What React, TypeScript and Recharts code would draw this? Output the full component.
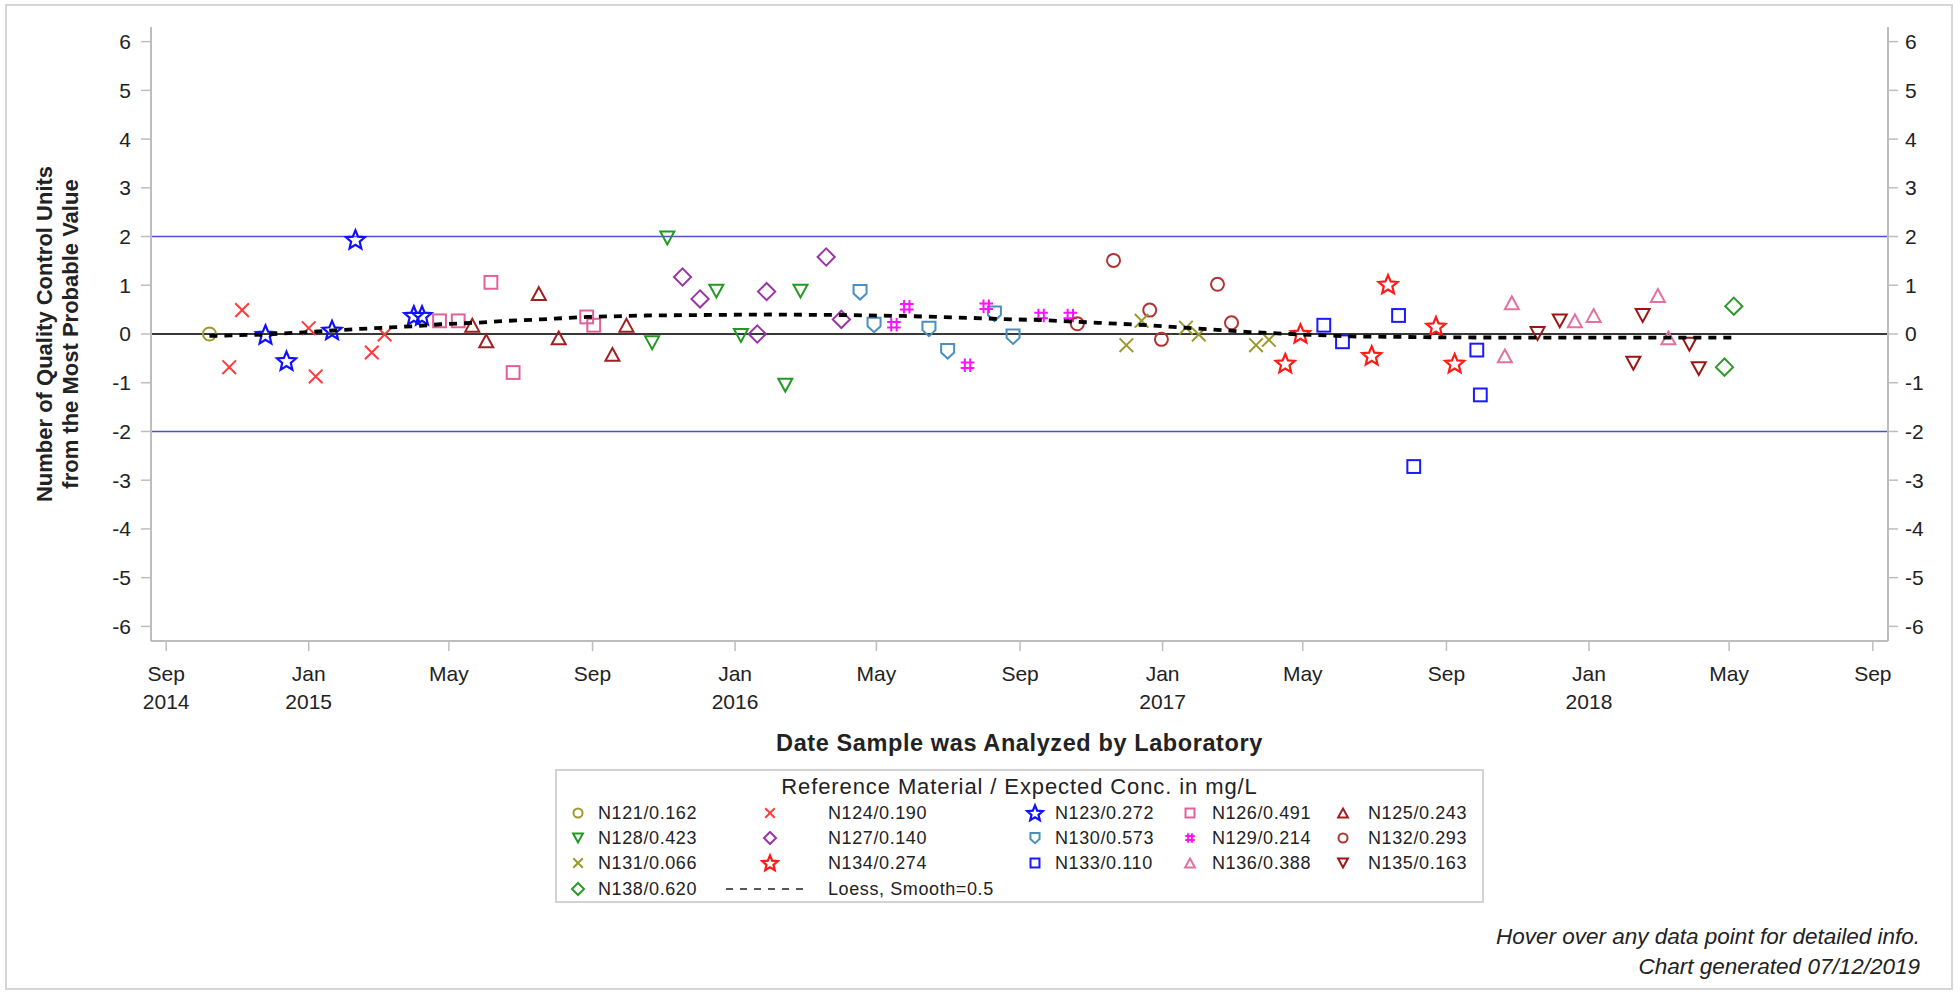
import React from 'react';
import { ScatterChart, Scatter, XAxis, YAxis, ReferenceLine, Label } from 'recharts';

const FONT = '"Liberation Sans", Arial, Helvetica, sans-serif';
const AXIS_GRAY = '#bdbdbd';
const TEXT = '#222';

// x axis ticks (month / year labels)
const TICK_DATES = [
  '2014-09-01', '2015-01-01', '2015-05-01', '2015-09-01', '2016-01-01', '2016-05-01', '2016-09-01',
  '2017-01-01', '2017-05-01', '2017-09-01', '2018-01-01', '2018-05-01', '2018-09-01'
];
const TICK_MONTHS = ['Sep', 'Jan', 'May', 'Sep', 'Jan', 'May', 'Sep', 'Jan', 'May', 'Sep', 'Jan', 'May', 'Sep'];
const TICK_YEARS = ['2014', '2015', '', '', '2016', '', '', '2017', '', '', '2018', '', ''];
const Y_TICKS = [-6, -5, -4, -3, -2, -1, 0, 1, 2, 3, 4, 5, 6];
const X_START = '2014-08-19';
const X_END = '2018-09-14';

// one pair of arrays per reference material
const N121_DATES = ['2014-10-08'];
const N121_VALUES = [0.0];

const N124_DATES = ['2014-10-25', '2014-11-05', '2015-01-01', '2015-01-07', '2015-02-24', '2015-03-07'];
const N124_VALUES = [-0.68, 0.49, 0.12, -0.87, -0.38, -0.01];

const N123_DATES = ['2014-11-25', '2014-12-13', '2015-01-21', '2015-02-10', '2015-04-01', '2015-04-08'];
const N123_VALUES = [-0.01, -0.55, 0.08, 1.94, 0.38, 0.38];

const N126_DATES = ['2015-04-23', '2015-05-09', '2015-06-06', '2015-06-25', '2015-08-27', '2015-09-02'];
const N126_VALUES = [0.27, 0.27, 1.06, -0.79, 0.35, 0.18];

const N125_DATES = ['2015-05-21', '2015-06-02', '2015-07-17', '2015-08-03', '2015-09-18', '2015-09-30'];
const N125_VALUES = [0.18, -0.14, 0.83, -0.08, -0.42, 0.18];

const N128_DATES = ['2015-10-22', '2015-11-04', '2015-12-16', '2016-01-06', '2016-02-13', '2016-02-26'];
const N128_VALUES = [-0.18, 1.97, 0.88, -0.03, -1.05, 0.88];

const N127_DATES = ['2015-11-17', '2015-12-02', '2016-01-20', '2016-01-28', '2016-03-19', '2016-04-01'];
const N127_VALUES = [1.17, 0.72, 0.0, 0.87, 1.58, 0.30];

const N130_DATES = ['2016-04-17', '2016-04-29', '2016-06-15', '2016-07-01', '2016-08-10', '2016-08-26'];
const N130_VALUES = [0.86, 0.19, 0.11, -0.35, 0.42, -0.05];

const N129_DATES = ['2016-05-16', '2016-05-27', '2016-07-18', '2016-08-03', '2016-09-19', '2016-10-14'];
const N129_VALUES = [0.19, 0.56, -0.64, 0.57, 0.38, 0.38];

const N132_DATES = ['2016-10-20', '2016-11-20', '2016-12-21', '2016-12-31', '2017-02-17', '2017-03-01'];
const N132_VALUES = [0.21, 1.51, 0.49, -0.11, 1.02, 0.23];

const N131_DATES = ['2016-12-01', '2016-12-14', '2017-01-21', '2017-02-01', '2017-03-22', '2017-04-02'];
const N131_VALUES = [-0.23, 0.27, 0.13, -0.01, -0.23, -0.12];

const N134_DATES = ['2017-04-16', '2017-04-29', '2017-06-29', '2017-07-13', '2017-08-23', '2017-09-08'];
const N134_VALUES = [-0.60, 0.01, -0.44, 1.02, 0.16, -0.60];

const N133_DATES = ['2017-05-19', '2017-06-04', '2017-07-22', '2017-08-04', '2017-09-27', '2017-09-30'];
const N133_VALUES = [0.18, -0.16, 0.38, -2.72, -0.33, -1.25];

const N136_DATES = ['2017-10-21', '2017-10-27', '2017-12-20', '2018-01-05', '2018-03-01', '2018-03-10'];
const N136_VALUES = [-0.45, 0.64, 0.27, 0.38, 0.79, -0.08];

const N135_DATES = ['2017-11-18', '2017-12-07', '2018-02-08', '2018-02-16', '2018-03-28', '2018-04-05'];
const N135_VALUES = [0.01, 0.27, -0.60, 0.38, -0.21, -0.71];

const N138_DATES = ['2018-04-27', '2018-05-05'];
const N138_VALUES = [-0.68, 0.57];

// loess fit
const LOESS_DATES = [
  '2014-10-08', '2014-11-25', '2015-01-01', '2015-02-10', '2015-03-07', '2015-04-01', '2015-04-24',
  '2015-05-23', '2015-06-20', '2015-07-19', '2015-08-27', '2015-10-17', '2015-12-04', '2016-01-31',
  '2016-03-30', '2016-05-25', '2016-07-21', '2016-08-27', '2016-09-25', '2016-11-07', '2016-12-20',
  '2017-02-01', '2017-03-16', '2017-04-30', '2017-06-12', '2017-07-25', '2017-09-03', '2017-12-01',
  '2018-03-01', '2018-05-05'
];
const LOESS_VALUES = [
  -0.04, -0.01, 0.04, 0.10, 0.13, 0.16, 0.20,
  0.23, 0.27, 0.30, 0.35, 0.38, 0.39, 0.40,
  0.39, 0.37, 0.33, 0.30, 0.28, 0.23, 0.18,
  0.11, 0.04, -0.01, -0.05, -0.06, -0.07, -0.075,
  -0.075, -0.075
];

type Kind = 'circle' | 'x' | 'star' | 'square' | 'triangle' | 'triangledown' | 'diamond' | 'homedown' | 'hash';

const SERIES: { name: string; kind: Kind; color: string; dates: string[]; values: number[] }[] = [
  { name: 'N121/0.162', kind: 'circle', color: '#9c9a2c', dates: N121_DATES, values: N121_VALUES },
  { name: 'N124/0.190', kind: 'x', color: '#ff3b3b', dates: N124_DATES, values: N124_VALUES },
  { name: 'N123/0.272', kind: 'star', color: '#1010ff', dates: N123_DATES, values: N123_VALUES },
  { name: 'N126/0.491', kind: 'square', color: '#e2609a', dates: N126_DATES, values: N126_VALUES },
  { name: 'N125/0.243', kind: 'triangle', color: '#a31f1f', dates: N125_DATES, values: N125_VALUES },
  { name: 'N128/0.423', kind: 'triangledown', color: '#229a22', dates: N128_DATES, values: N128_VALUES },
  { name: 'N127/0.140', kind: 'diamond', color: '#9a35a8', dates: N127_DATES, values: N127_VALUES },
  { name: 'N130/0.573', kind: 'homedown', color: '#4a8fbf', dates: N130_DATES, values: N130_VALUES },
  { name: 'N129/0.214', kind: 'hash', color: '#ff10ff', dates: N129_DATES, values: N129_VALUES },
  { name: 'N132/0.293', kind: 'circle', color: '#b03434', dates: N132_DATES, values: N132_VALUES },
  { name: 'N131/0.066', kind: 'x', color: '#9c9a2c', dates: N131_DATES, values: N131_VALUES },
  { name: 'N134/0.274', kind: 'star', color: '#ff1a1a', dates: N134_DATES, values: N134_VALUES },
  { name: 'N133/0.110', kind: 'square', color: '#1a1aff', dates: N133_DATES, values: N133_VALUES },
  { name: 'N136/0.388', kind: 'triangle', color: '#e4709e', dates: N136_DATES, values: N136_VALUES },
  { name: 'N135/0.163', kind: 'triangledown', color: '#9c1414', dates: N135_DATES, values: N135_VALUES },
  { name: 'N138/0.620', kind: 'diamond', color: '#2e9a2e', dates: N138_DATES, values: N138_VALUES }
];

const ms = (d: string) => Date.parse(d + 'T00:00:00Z');
const TICKS = TICK_DATES.map(ms);
const X_DOMAIN = [ms(X_START), ms(X_END)];
const LOESS_DATA = LOESS_DATES.map((d, i) => ({ t: ms(d), v: LOESS_VALUES[i] }));

function starPath(cx: number, cy: number, R: number, r: number) {
  let d = '';
  for (let i = 0; i < 10; i++) {
    const rad = i % 2 === 0 ? R : r;
    const a = -Math.PI / 2 + (i * Math.PI) / 5;
    d += (i === 0 ? 'M' : 'L') + (cx + rad * Math.cos(a)).toFixed(2) + ',' + (cy + rad * Math.sin(a)).toFixed(2);
  }
  return d + 'Z';
}

function Marker({ kind, cx, cy, color, s = 1 }: { kind: Kind; cx: number; cy: number; color: string; s?: number }) {
  const common = { fill: 'none', stroke: color, strokeWidth: 2 };
  switch (kind) {
    case 'circle':
      return <circle cx={cx} cy={cy} r={6.5 * s} {...common} />;
    case 'x': {
      const h = 6.8 * s;
      return <path d={`M${cx - h},${cy - h}L${cx + h},${cy + h}M${cx - h},${cy + h}L${cx + h},${cy - h}`} {...common} />;
    }
    case 'star':
      return <path d={starPath(cx, cy + 0.8 * s, 10 * s, 4.5 * s)} {...common} strokeWidth={2.2} strokeLinejoin="miter" />;
    case 'square': {
      const h = 6.4 * s;
      return <rect x={cx - h} y={cy - h} width={2 * h} height={2 * h} {...common} />;
    }
    case 'triangle': {
      const w = 7 * s, h = 6.4 * s;
      return <path d={`M${cx},${cy - h}L${cx + w},${cy + h}L${cx - w},${cy + h}Z`} {...common} />;
    }
    case 'triangledown': {
      const w = 7 * s, h = 6.4 * s;
      return <path d={`M${cx - w},${cy - h}L${cx + w},${cy - h}L${cx},${cy + h}Z`} {...common} />;
    }
    case 'diamond': {
      const h = 8.6 * s;
      return <path d={`M${cx},${cy - h}L${cx + h},${cy}L${cx},${cy + h}L${cx - h},${cy}Z`} {...common} />;
    }
    case 'homedown': {
      const w = 6.5 * s;
      return (
        <path
          d={`M${cx - w},${cy - 7 * s}L${cx + w},${cy - 7 * s}L${cx + w},${cy + 1.5 * s}L${cx},${cy + 7.5 * s}L${cx - w},${cy + 1.5 * s}Z`}
          {...common}
        />
      );
    }
    case 'hash': {
      const h = 6.8 * s, o = 2.7 * s;
      return (
        <path
          d={`M${cx - o},${cy - h}V${cy + h}M${cx + o},${cy - h}V${cy + h}M${cx - h},${cy - o}H${cx + h}M${cx - h},${cy + o}H${cx + h}`}
          {...common}
        />
      );
    }
  }
  return null;
}

function XTick({ x, y, payload }: any) {
  const i = TICKS.indexOf(payload.value);
  return (
    <text x={x} y={y + 30} textAnchor="middle" fontSize={21} fontFamily={FONT} fill={TEXT}>
      <tspan x={x}>{TICK_MONTHS[i]}</tspan>
      {TICK_YEARS[i] ? <tspan x={x} dy={28}>{TICK_YEARS[i]}</tspan> : null}
    </text>
  );
}

// legend layout (page coordinates)
const LEG_MARKER_X = [578, 770, 1035, 1190, 1343];
const LEG_TEXT_X = [598, 828, 1055, 1212, 1368];
const LEG_ROW_Y = [813, 838, 863, 889];

export default function App() {
  const tickStyle = { fontSize: 21, fontFamily: FONT, fill: TEXT };
  return (
    <div style={{ position: 'absolute', left: 0, top: 0, width: 1960, height: 992, background: '#fff' }}>
      <ScatterChart width={1960} height={992} margin={{ top: 27, right: 0, bottom: 0, left: 0 }}>
        <XAxis
          dataKey="t"
          type="number"
          domain={X_DOMAIN}
          allowDataOverflow
          ticks={TICKS}
          tick={<XTick />}
          tickSize={10}
          tickMargin={0}
          height={351}
          axisLine={{ stroke: AXIS_GRAY, strokeWidth: 2 }}
          tickLine={{ stroke: AXIS_GRAY, strokeWidth: 1.5 }}
        >
          <Label
            content={({ viewBox }: any) => (
              <text
                x={viewBox.x + viewBox.width / 2}
                y={viewBox.y + 102}
                textAnchor="middle"
                dominantBaseline="central"
                fontSize={23.5}
                letterSpacing={0.6}
                fontWeight="bold"
                fontFamily={FONT}
                fill={TEXT}
              >
                Date Sample was Analyzed by Laboratory
              </text>
            )}
          />
        </XAxis>
        <XAxis
          xAxisId="top"
          orientation="top"
          type="number"
          domain={X_DOMAIN}
          allowDataOverflow
          tick={false}
          tickLine={false}
          height={0}
          axisLine={{ stroke: AXIS_GRAY, strokeWidth: 2 }}
        />
        <YAxis
          dataKey="v"
          type="number"
          domain={[-6.3, 6.3]}
          allowDataOverflow
          ticks={Y_TICKS}
          width={151}
          tickSize={10}
          tickMargin={10}
          tick={tickStyle}
          axisLine={{ stroke: AXIS_GRAY, strokeWidth: 2 }}
          tickLine={{ stroke: AXIS_GRAY, strokeWidth: 1.5 }}
        >
          <Label
            content={({ viewBox }: any) => {
              const cy = viewBox.y + viewBox.height / 2;
              return (
                <g fontSize={22} fontWeight="bold" fontFamily={FONT} fill={TEXT} textAnchor="middle">
                  <text x={44} y={cy} dominantBaseline="central" transform={`rotate(-90, 44, ${cy})`}>
                    Number of Quality Control Units
                  </text>
                  <text x={70} y={cy} dominantBaseline="central" transform={`rotate(-90, 70, ${cy})`}>
                    from the Most Probable Value
                  </text>
                </g>
              );
            }}
          />
        </YAxis>
        <YAxis
          yAxisId="right"
          orientation="right"
          type="number"
          domain={[-6.3, 6.3]}
          allowDataOverflow
          ticks={Y_TICKS}
          width={72}
          tickSize={10}
          tickMargin={7}
          tick={tickStyle}
          axisLine={{ stroke: AXIS_GRAY, strokeWidth: 2 }}
          tickLine={{ stroke: AXIS_GRAY, strokeWidth: 1.5 }}
        />
        <ReferenceLine y={2} stroke="#4d4dd6" strokeWidth={1.6} />
        <ReferenceLine y={-2} stroke="#4d4dd6" strokeWidth={1.6} />
        <ReferenceLine y={0} stroke="#383838" strokeWidth={2.2} />
        {SERIES.map((s) => (
          <Scatter
            key={s.name}
            name={s.name}
            data={s.dates.map((d, i) => ({ t: ms(d), v: s.values[i] }))}
            isAnimationActive={false}
            shape={(p: any) => <Marker kind={s.kind} cx={p.cx} cy={p.cy} color={s.color} />}
          />
        ))}
        <Scatter
          name="Loess, Smooth=0.5"
          data={LOESS_DATA}
          line={{ stroke: '#000', strokeWidth: 3.8, strokeDasharray: '8 7' }}
          lineType="joint"
          isAnimationActive={false}
          shape={() => <g />}
        />
      </ScatterChart>

      <svg
        width={1960}
        height={992}
        style={{ position: 'absolute', left: 0, top: 0, pointerEvents: 'none' }}
        fontFamily={FONT}
      >
        <rect x={6} y={5} width={1946} height={984} fill="none" stroke="#d6d6d6" strokeWidth={2} />
        <rect x={556} y={770} width={927} height={132} fill="none" stroke="#d2d2d2" strokeWidth={2} />
        <text x={1019.5} y={786} textAnchor="middle" dominantBaseline="central" fontSize={22} letterSpacing={0.9} fill={TEXT}>
          Reference Material / Expected Conc. in mg/L
        </text>
        {SERIES.map((s, i) => {
          const row = Math.floor(i / 5);
          const col = i % 5;
          const y = LEG_ROW_Y[row];
          return (
            <g key={s.name}>
              <Marker kind={s.kind} cx={LEG_MARKER_X[col]} cy={y} color={s.color} s={s.kind === 'star' ? 0.82 : 0.7} />
              <text x={LEG_TEXT_X[col]} y={y} dominantBaseline="central" fontSize={18} letterSpacing={0.6} fill={TEXT}>
                {s.name}
              </text>
            </g>
          );
        })}
        <line x1={726} y1={LEG_ROW_Y[3]} x2={807} y2={LEG_ROW_Y[3]} stroke="#222" strokeWidth={1.5} strokeDasharray="7 7" />
        <text x={LEG_TEXT_X[1]} y={LEG_ROW_Y[3]} dominantBaseline="central" fontSize={18} letterSpacing={0.6} fill={TEXT}>
          Loess, Smooth=0.5
        </text>
        <g fontSize={22.5} fontStyle="italic" fill={TEXT} textAnchor="end">
          <text x={1920} y={936} dominantBaseline="central">Hover over any data point for detailed info.</text>
          <text x={1920} y={966} dominantBaseline="central">Chart generated 07/12/2019</text>
        </g>
      </svg>
    </div>
  );
}
